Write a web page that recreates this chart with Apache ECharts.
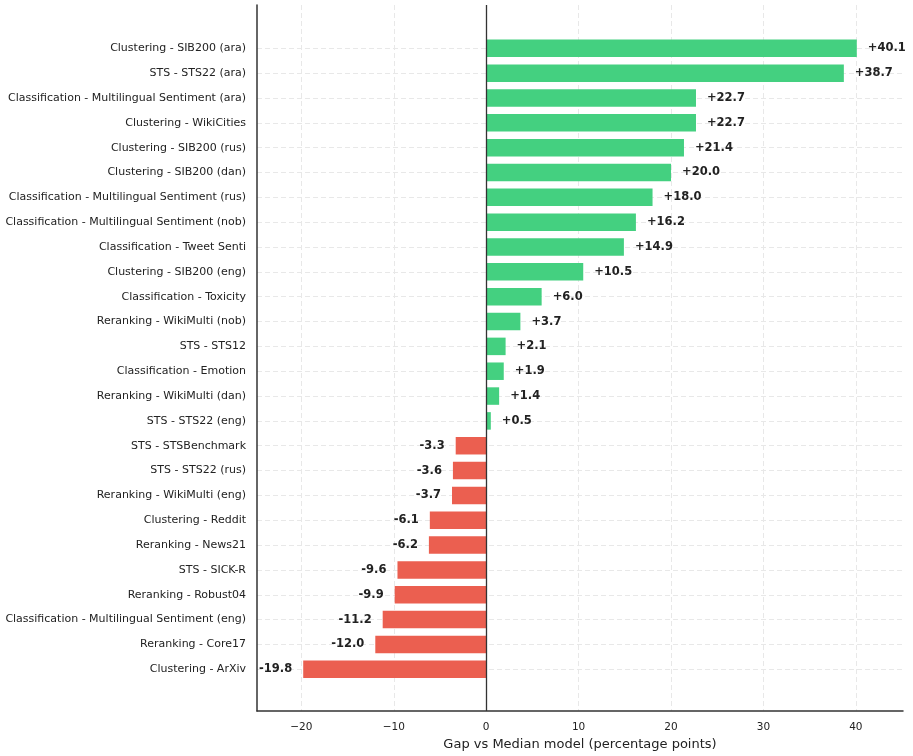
<!DOCTYPE html>
<html>
<head>
<meta charset="utf-8">
<script src="https://cdn.jsdelivr.net/npm/echarts@6/dist/echarts.min.js"></script>
<style>
html,body{margin:0;padding:0;background:#fff;}
#chart{width:913px;height:756px;}
</style>
</head>
<body>
<div id="chart"></div>
<script>
const categories = [
  'Clustering - SIB200 (ara)',
  'STS - STS22 (ara)',
  'Classification - Multilingual Sentiment (ara)',
  'Clustering - WikiCities',
  'Clustering - SIB200 (rus)',
  'Clustering - SIB200 (dan)',
  'Classification - Multilingual Sentiment (rus)',
  'Classification - Multilingual Sentiment (nob)',
  'Classification - Tweet Senti',
  'Clustering - SIB200 (eng)',
  'Classification - Toxicity',
  'Reranking - WikiMulti (nob)',
  'STS - STS12',
  'Classification - Emotion',
  'Reranking - WikiMulti (dan)',
  'STS - STS22 (eng)',
  'STS - STSBenchmark',
  'STS - STS22 (rus)',
  'Reranking - WikiMulti (eng)',
  'Clustering - Reddit',
  'Reranking - News21',
  'STS - SICK-R',
  'Reranking - Robust04',
  'Classification - Multilingual Sentiment (eng)',
  'Reranking - Core17',
  'Clustering - ArXiv'
];
const gaps = [40.1, 38.7, 22.7, 22.7, 21.4, 20.0, 18.0, 16.2, 14.9, 10.5, 6.0, 3.7, 2.1, 1.9, 1.4, 0.5,
  -3.3, -3.6, -3.7, -6.1, -6.2, -9.6, -9.9, -11.2, -12.0, -19.8];
const xTicks = [-20, -10, 0, 10, 20, 30, 40];
const xMin = -24.8, xMax = 45.1;
const xTitle = 'Gap vs Median model (percentage points)';

const FONT = 'DejaVu Sans';
const GREEN = '#44d080';
const RED = '#eb5f50';

const chart = echarts.init(document.getElementById('chart'), null, {renderer: 'canvas'});

const barData = gaps.map(v => ({
  value: v,
  itemStyle: {color: v >= 0 ? GREEN : RED},
  label: {position: v >= 0 ? 'right' : 'left'}
}));

const option = {
  animation: false,
  backgroundColor: '#fff',
  textStyle: {fontFamily: FONT},
  grid: [
    {left: 257, right: 10, top: 5, bottom: 45},
    {left: 257, right: 10, top: 35.9, bottom: 74.3}
  ],
  xAxis: [
    {
      gridIndex: 0, type: 'value', min: xMin, max: xMax,
      axisLine: {show: true, onZero: false, lineStyle: {color: '#333', width: 1.5}},
      axisTick: {show: false, customValues: xTicks},
      axisLabel: {
        customValues: xTicks, margin: 10.5, fontSize: 10.5, color: '#222', fontFamily: FONT,
        formatter: v => String(v).replace('-', '\u2212')
      },
      splitLine: {show: true, lineStyle: {type: [5, 3], color: '#e8e8e8', width: 1}},
      name: xTitle, nameLocation: 'middle', nameGap: 27,
      nameTextStyle: {fontSize: 13, color: '#222', fontFamily: FONT}
    },
    {
      gridIndex: 1, type: 'value', min: xMin, max: xMax, show: false,
      splitLine: {show: false}
    }
  ],
  yAxis: [
    {
      gridIndex: 0, type: 'value', min: 0, max: 1,
      axisLine: {show: true, onZero: false, lineStyle: {color: '#333', width: 1.5}},
      axisTick: {show: false}, axisLabel: {show: false}, splitLine: {show: false}
    },
    {
      gridIndex: 1, type: 'category', inverse: true, data: categories,
      axisLine: {show: false}, axisTick: {show: false},
      axisLabel: {margin: 11, fontSize: 11, color: '#222', fontFamily: FONT},
      splitLine: {show: false}
    }
  ],
  series: [
    {
      type: 'line', xAxisIndex: 0, yAxisIndex: 0, data: [], silent: true,
      markLine: {
        silent: true, symbol: 'none', z: 6, animation: false,
        label: {show: false},
        lineStyle: {type: 'solid', color: '#333', width: 1.3},
        data: [{xAxis: 0}]
      }
    },
    {
      type: 'bar', xAxisIndex: 1, yAxisIndex: 1, barWidth: 17.5, z: 3,
      data: barData,
      label: {
        show: true, distance: 11, fontSize: 11.5, fontWeight: 'bold', color: '#222', fontFamily: FONT,
        formatter: p => (p.value >= 0 ? '+' : '') + p.value.toFixed(1)
      },
      markLine: {
        silent: true, symbol: 'none', z: 0, animation: false,
        label: {show: false},
        lineStyle: {type: [5, 3], color: '#e8e8e8', width: 1},
        data: categories.map(c => ({yAxis: c}))
      }
    }
  ]
};
chart.setOption(option);
</script>
</body>
</html>
